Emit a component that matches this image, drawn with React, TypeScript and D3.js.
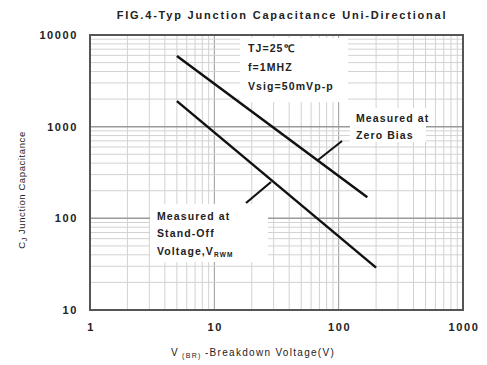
import React, { useEffect, useRef } from "react"
import * as d3 from "d3"

// breakdown voltage (V) vs junction capacitance (pF)
const zeroBiasV = [5, 170]
const zeroBiasC = [5900, 170]
const standOffV = [5, 200]
const standOffC = [1900, 29]

const xTicks = [1, 10, 100, 1000]
const yTicks = [10, 100, 1000, 10000]
const conditions = ["TJ=25\u2103", "f=1MHZ", "Vsig=50mVp-p"]

export default function App() {
  const svgRef = useRef<SVGSVGElement>(null)

  useEffect(() => {
    if (!svgRef.current) return
    const svg = d3.select(svgRef.current)
    svg.selectAll("*").remove()

    const x = d3.scaleLog().domain([1, 1000]).range([90, 463])
    const y = d3.scaleLog().domain([10, 10000]).range([310, 35])
    const font = "Arial, 'Liberation Sans', sans-serif"

    svg.append("rect").attr("width", 487).attr("height", 365).attr("fill", "#fff")

    // grid
    const minor: number[] = []
    for (let d = 1; d < 1000; d *= 10) for (let k = 1; k < 10; k++) minor.push(d * k)
    const g = svg.append("g")
    g.selectAll(".vx")
      .data(minor)
      .enter()
      .append("line")
      .attr("x1", (d) => x(d))
      .attr("x2", (d) => x(d))
      .attr("y1", y(10))
      .attr("y2", y(10000))
      .attr("stroke", (d) => (xTicks.includes(d) ? "#9a9a9a" : "#d2d2d2"))
      .attr("stroke-width", 1)
    const minorY: number[] = []
    for (let d = 10; d < 10000; d *= 10) for (let k = 1; k < 10; k++) minorY.push(d * k)
    g.selectAll(".hy")
      .data(minorY)
      .enter()
      .append("line")
      .attr("x1", x(1))
      .attr("x2", x(1000))
      .attr("y1", (d) => y(d))
      .attr("y2", (d) => y(d))
      .attr("stroke", (d) => (yTicks.includes(d) ? "#9a9a9a" : "#d2d2d2"))
      .attr("stroke-width", (d) => (yTicks.includes(d) ? 1.5 : 1))

    // white backing for annotations
    const boxes = [
      [240, 38, 108, 64],
      [150, 204, 118, 58],
      [350, 108, 76, 34],
    ]
    svg
      .selectAll(".box")
      .data(boxes)
      .enter()
      .append("rect")
      .attr("x", (d) => d[0])
      .attr("y", (d) => d[1])
      .attr("width", (d) => d[2])
      .attr("height", (d) => d[3])
      .attr("fill", "#fff")

    // frame
    svg
      .append("rect")
      .attr("x", x(1))
      .attr("y", y(10000))
      .attr("width", x(1000) - x(1))
      .attr("height", y(10) - y(10000))
      .attr("fill", "none")
      .attr("stroke", "#555")
      .attr("stroke-width", 2)

    const line = d3.line<number>().x((d) => x(d))
    const drawSeries = (vs: number[], cs: number[]) =>
      svg
        .append("path")
        .attr("d", line.y((_, i) => y(cs[i]))(vs))
        .attr("fill", "none")
        .attr("stroke", "#111")
        .attr("stroke-width", 2.5)
    drawSeries(zeroBiasV, zeroBiasC)
    drawSeries(standOffV, standOffC)

    // pointers
    svg
      .append("line")
      .attr("x1", 318)
      .attr("y1", 160)
      .attr("x2", 342)
      .attr("y2", 141)
      .attr("stroke", "#111")
      .attr("stroke-width", 2)
    svg
      .append("line")
      .attr("x1", 246)
      .attr("y1", 203)
      .attr("x2", 271)
      .attr("y2", 182)
      .attr("stroke", "#111")
      .attr("stroke-width", 2.2)

    const label = (sel: any, size: number, spacing: number, bold = true) =>
      sel
        .attr("font-family", font)
        .attr("font-size", size)
        .attr("font-weight", bold ? "bold" : "normal")
        .attr("letter-spacing", spacing)
        .attr("fill", "#222")

    // ticks
    label(
      svg
        .selectAll(".xt")
        .data(xTicks)
        .enter()
        .append("text")
        .attr("x", (d) => x(d) + 1)
        .attr("y", 331)
        .attr("text-anchor", "middle"),
      11,
      1.6
    ).text((d) => d)
    label(
      svg
        .selectAll(".yt")
        .data(yTicks)
        .enter()
        .append("text")
        .attr("x", 78)
        .attr("y", (d) => y(d) + 4)
        .attr("text-anchor", "end"),
      11,
      1.6
    ).text((d) => d)

    // title
    label(
      svg.append("text").attr("x", 282).attr("y", 19).attr("text-anchor", "middle"),
      11,
      1.8
    ).text("FIG.4-Typ Junction Capacitance Uni-Directional")

    // axis labels
    const xl = label(
      svg.append("text").attr("x", 253).attr("y", 356).attr("text-anchor", "middle"),
      10,
      1.3,
      false
    )
    xl.append("tspan").text("V")
    xl.append("tspan").attr("font-size", 7).attr("dy", 2).text(" (BR) ")
    xl.append("tspan").attr("dy", -2).text("-Breakdown Voltage(V)")

    const yl = label(
      svg
        .append("text")
        .attr("transform", "translate(25,190) rotate(-90)")
        .attr("text-anchor", "middle"),
      9.5,
      0.6,
      false
    )
    yl.append("tspan").text("C")
    yl.append("tspan").attr("font-size", 7).attr("dy", 2).text("J")
    yl.append("tspan").attr("dy", -2).text(" Junction Capacitance")

    // annotations
    const txt = (tx: number, ty: number, s: string) =>
      label(svg.append("text").attr("x", tx).attr("y", ty), 10.5, 1.1).text(s)
    conditions.forEach((s, i) => txt(248, 52 + i * 19, s))
    txt(356, 122, "Measured at")
    txt(356, 139, "Zero Bias")
    txt(157, 220, "Measured at")
    txt(157, 237, "Stand-Off")
    const v = txt(157, 255, "Voltage,V")
    v.append("tspan").attr("font-size", 6.5).attr("dy", 2).text("RWM")
  }, [])

  return (
    <svg
      ref={svgRef}
      width={487}
      height={365}
      style={{ position: "absolute", left: 0, top: 0 }}
    />
  )
}
